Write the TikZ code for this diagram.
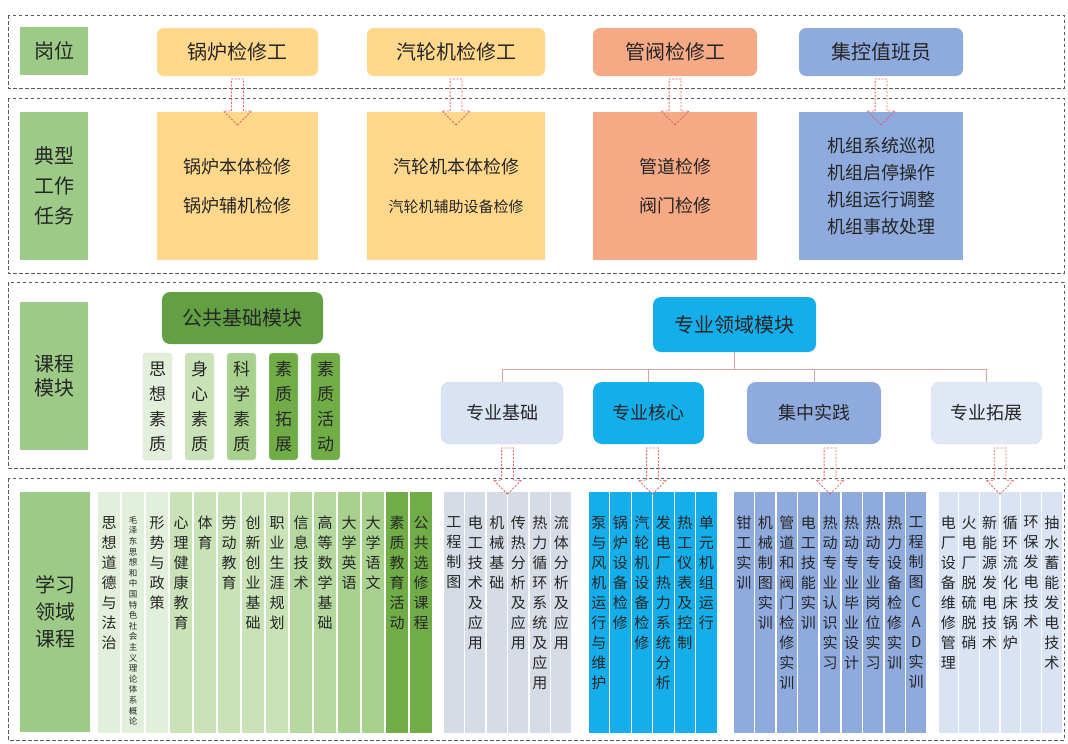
\documentclass[tikz,border=0pt]{standalone}
\usepackage{fontspec}
\setmainfont{Noto Sans CJK SC}
\usetikzlibrary{shapes.arrows,calc}

\definecolor{labgreen}{HTML}{9DCB87}
\definecolor{gA}{HTML}{E2EFDA}
\definecolor{gB}{HTML}{C9E2B8}
\definecolor{gC}{HTML}{B4D89E}
\definecolor{gD}{HTML}{A9D18E}
\definecolor{gE}{HTML}{70AD47}
\definecolor{gdark}{HTML}{62A043}
\definecolor{boiler}{HTML}{FFD88C}
\definecolor{pipe}{HTML}{F6A985}
\definecolor{ctrl}{HTML}{8FAADC}
\definecolor{cyanbox}{HTML}{14AEEB}
\definecolor{paleblue}{HTML}{DAE3F3}
\definecolor{basegray}{HTML}{D6DCE5}
\definecolor{arrred}{HTML}{E06666}
\definecolor{treered}{HTML}{D4A5A5}
\definecolor{txt}{HTML}{262626}

% vertical text: one character per line
\makeatletter
\newcommand\colchars[3]{\vbox{\fontsize{#1}{#2}\selectfont\lineskiplimit=-100pt
  \hsize=#1\relax\expandafter\colch@r#3\@nil}}
\def\colch@r#1{\ifx#1\@nil\else\hbox to\hsize{\hss#1\hss}\expandafter\colch@r\fi}
\makeatother
\newcommand\coltext[4]{\vbox to 241pt{\vskip 24pt\hbox to #1{\hss\colchars{#2}{#3}{#4}\hss}\vss}}

\begin{document}
\begin{tikzpicture}[
    x=1pt, y=-1pt,
    secframe/.style={draw=black!65, dash pattern=on 3.5pt off 2.5pt, line width=0.9pt},
    lab/.style={fill=labgreen, minimum width=68pt, align=center, text=txt,
                font=\fontsize{20}{24}\selectfont},
    job/.style={rounded corners=7pt, minimum height=48pt, align=center, text=txt,
                font=\fontsize{20}{24}\selectfont},
    task/.style={minimum height=148pt, align=center, text=txt,
                 font=\fontsize{18}{39}\selectfont},
    module/.style={rounded corners=8pt, align=center, text=txt,
                   font=\fontsize{20}{24}\selectfont},
    subbox/.style={rounded corners=9pt, minimum height=62pt, align=center, text=txt,
                   font=\fontsize{18}{22}\selectfont},
    qual/.style={rounded corners=3pt, draw=black!12, minimum width=29pt,
                 minimum height=107pt, inner sep=0pt, text=txt},
    colbox/.style={anchor=north, inner sep=0pt, text=txt},
    blockarr/.style={single arrow, draw=arrred, dash pattern=on 2pt off 1.5pt,
                     line width=0.8pt, shape border rotate=270, minimum height=46pt,
                     inner sep=5.5pt, single arrow head extend=8pt},
    treeline/.style={draw=treered, line width=0.8pt}
  ]
    \useasboundingbox (0,0) rectangle (1068,744);

    % section frames
    \draw[secframe] (8,15)  rectangle (1064,88);
    \draw[secframe] (8,98)  rectangle (1064,273);
    \draw[secframe] (8,282) rectangle (1064,468);
    \draw[secframe] (8,478) rectangle (1064,740);

    % row labels
    \node[lab, minimum height=48pt]  (lab1) at (54,51)  {岗位};
    \node[lab, minimum height=148pt, font=\fontsize{20}{30}\selectfont]
          (lab2) at (54,186) {典型\\工作\\任务};
    \node[lab, minimum height=148pt] (lab3) at (54,376) {课程\\模块};
    \node[lab, minimum height=240pt, minimum width=70pt, font=\fontsize{20}{27}\selectfont]
          (lab4) at (55,612) {学习\\领域\\课程};

    % posts
    \node[job, fill=boiler, minimum width=161pt] (job1) at (237.5,52) {锅炉检修工};
    \node[job, fill=boiler, minimum width=178pt] (job2) at (456,52)   {汽轮机检修工};
    \node[job, fill=pipe,   minimum width=164pt] (job3) at (675,52)   {管阀检修工};
    \node[job, fill=ctrl,   minimum width=164pt] (job4) at (881,52)   {集控值班员};

    % typical tasks
    \node[task, fill=boiler, minimum width=161pt] (task1) at (237.5,186)
          {锅炉本体检修\\锅炉辅机检修};
    \node[task, fill=boiler, minimum width=178pt] (task2) at (456,186)
          {汽轮机本体检修\\\fontsize{15}{39}\selectfont 汽轮机辅助设备检修};
    \node[task, fill=pipe,   minimum width=164pt] (task3) at (675,186)
          {管道检修\\阀门检修};
    \node[task, fill=ctrl,   minimum width=164pt, font=\fontsize{18}{27}\selectfont]
          (task4) at (881,186) {机组系统巡视\\机组启停操作\\机组运行调整\\机组事故处理};

    \foreach \k in {1,...,4}
      \node[blockarr] (pa\k) at ($(job\k.south)!0.5!(task\k.north)+(0,5)$) {};

    % public basic module
    \node[module, fill=gdark, minimum width=161pt, minimum height=52pt] (pub) at (242.5,318)
          {公共基础模块};
    \foreach \name/\cl [count=\i] in {思想素质/gA, 身心素质/gB, 科学素质/gD,
                                      素质拓展/gE, 素质活动/gE}
      \node[qual, fill=\cl] (q\i) at ({157.5+42*(\i-1)},406.5) {\colchars{17pt}{25pt}{\name}};

    % professional module
    \node[module, fill=cyanbox, minimum width=163pt, minimum height=55pt] (pro) at (734.5,324.5)
          {专业领域模块};
    \node[subbox, fill=paleblue, draw=ctrl!45, minimum width=122pt] (sb1) at (502,413)   {专业基础};
    \node[subbox, fill=cyanbox, minimum width=111pt]                (sb2) at (648.5,413) {专业核心};
    \node[subbox, fill=ctrl, minimum width=134pt]                   (sb3) at (814,413)   {集中实践};
    \node[subbox, fill=paleblue!85, draw=ctrl!40, minimum width=111pt] (sb4) at (986.5,413) {专业拓展};
    \foreach \k in {1,...,4}
      \draw[treeline] (pro.south) -- ++(0,17) -| (sb\k.north);

    % learning area courses
    \foreach \name/\cl/\fsz/\lsk [count=\i] in {
        思想道德与法治/gA/15/20,
        毛泽东思想和中国特色社会主义理论体系概论/gA/8.5/10.6,
        形势与政策/gA/15/20, 心理健康教育/gB/15/20, 体育/gB/15/20,
        劳动教育/gB/15/20, 创新创业基础/gB/15/20, 职业生涯规划/gB/15/20,
        信息技术/gC/15/20, 高等数学基础/gC/15/20, 大学英语/gD/15/20,
        大学语文/gD/15/20, 素质教育活动/gE/15/20, 公共选修课程/gE/15/20}
      \node[colbox, fill=\cl, minimum width=22.5pt] (pubc\i) at ({109+24*(\i-1)},492)
            {\coltext{22.5pt}{\fsz pt}{\lsk pt}{\name}};

    \foreach \name [count=\i] in {工程制图, 电工技术及应用, 机械基础, 传热分析及应用,
                                  热力循环系统及应用, 流体分析及应用}
      \node[colbox, fill=basegray, minimum width=20pt] (base\i) at ({453.75+21.5*(\i-1)},492)
            {\coltext{20pt}{15pt}{20pt}{\name}};

    \foreach \name [count=\i] in {泵与风机运行与维护, 锅炉设备检修, 汽轮机设备检修,
                                  发电厂热力系统分析, 热工仪表及控制, 单元机组运行}
      \node[colbox, fill=cyanbox, minimum width=20.5pt] (core\i) at ({598.75+21.5*(\i-1)},492)
            {\coltext{20.5pt}{15pt}{20pt}{\name}};

    \foreach \name [count=\i] in {钳工实训, 机械制图实训, 管道和阀门检修实训, 电工技能实训,
                                  热动专业认识实习, 热动专业毕业设计, 热动专业岗位实习,
                                  热力设备检修实训, 工程制图CAD实训}
      \node[colbox, fill=ctrl, minimum width=20pt] (prac\i) at ({743.8+21.55*(\i-1)},492)
            {\coltext{20pt}{15pt}{20pt}{\name}};

    \foreach \name [count=\i] in {电厂设备维修管理, 火电厂脱硫脱硝, 新能源发电技术,
                                  循环流化床锅炉, 环保发电技术, 抽水蓄能发电技术}
      \node[colbox, fill=paleblue, minimum width=19.5pt] (ext\i) at ({948.3+20.7*(\i-1)},492)
            {\coltext{19.5pt}{15pt}{20pt}{\name}};

    % arrows down to the course groups
    \coordinate (g1) at ($(base1.north)!0.5!(base6.north)$);
    \coordinate (g2) at ($(core1.north)!0.5!(core6.north)$);
    \coordinate (g3) at ($(prac1.north)!0.5!(prac9.north)$);
    \coordinate (g4) at ($(ext1.north)!0.5!(ext6.north)$);
    \foreach \k in {1,...,4}
      \node[blockarr] (ga\k) at ($(g\k |- sb\k.south)!0.5!(g\k)$) {};
  \end{tikzpicture}
\end{document}
